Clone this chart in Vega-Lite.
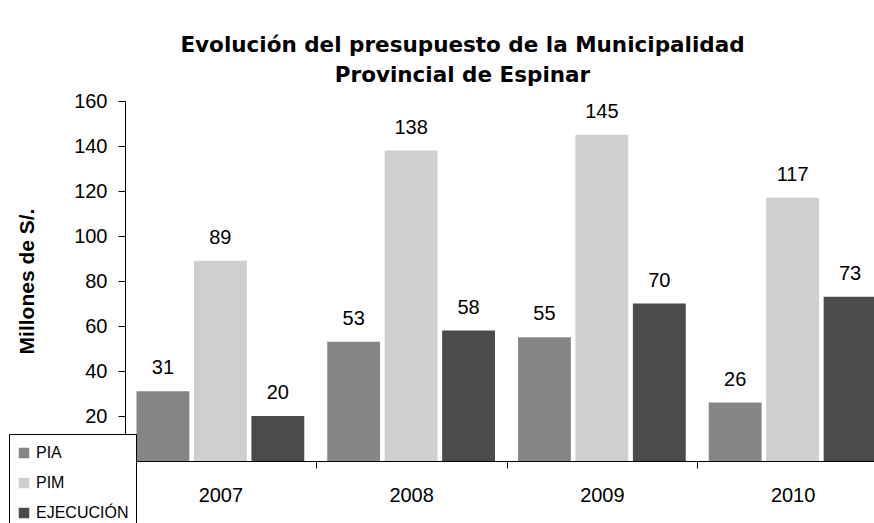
{
  "$schema": "https://vega.github.io/schema/vega-lite/v6.json",
  "autosize": {"type": "none"},
  "width": 749,
  "height": 360,
  "padding": {"left": 125, "top": 101, "right": 0, "bottom": 62},
  "background": "white",
  "config": {
    "font": "Liberation Sans",
    "view": {"stroke": null}
  },
  "title": {
    "text": ["Evolución del presupuesto de la Municipalidad", "Provincial de Espinar"],
    "fontSize": 21.5,
    "fontWeight": "bold",
    "lineHeight": 30,
    "anchor": "middle",
    "dx": -37,
    "offset": 5,
    "color": "black",
    "font": "DejaVu Sans"
  },
  "data": {
    "values": [
      {"year": "2007", "serie": "PIA", "value": 31},
      {"year": "2007", "serie": "PIM", "value": 89},
      {"year": "2007", "serie": "EJECUCIÓN", "value": 20},
      {"year": "2008", "serie": "PIA", "value": 53},
      {"year": "2008", "serie": "PIM", "value": 138},
      {"year": "2008", "serie": "EJECUCIÓN", "value": 58},
      {"year": "2009", "serie": "PIA", "value": 55},
      {"year": "2009", "serie": "PIM", "value": 145},
      {"year": "2009", "serie": "EJECUCIÓN", "value": 70},
      {"year": "2010", "serie": "PIA", "value": 26},
      {"year": "2010", "serie": "PIM", "value": 117},
      {"year": "2010", "serie": "EJECUCIÓN", "value": 73}
    ]
  },
  "encoding": {
    "x": {
      "field": "year",
      "type": "nominal",
      "scale": {"range": [0, 763], "paddingInner": 0, "paddingOuter": 0},
      "axis": {
        "title": null,
        "labelAngle": 0,
        "tickBand": "extent",
        "tickSize": 7,
        "domainColor": "black",
        "tickColor": "black",
        "labelColor": "black",
        "labelFontSize": 20,
        "labelPadding": 17
      }
    },
    "xOffset": {
      "field": "serie",
      "type": "nominal",
      "sort": ["PIA", "PIM", "EJECUCIÓN"],
      "scale": {"paddingInner": 0.08, "paddingOuter": 0.2}
    },
    "y": {
      "field": "value",
      "type": "quantitative",
      "scale": {"domain": [0, 160]},
      "axis": {
        "title": "Millones de S/.",
        "titleFontSize": 21,
        "titleFontWeight": "bold",
        "titleLetterSpacing": 0.7,
        "titleColor": "black",
        "titlePadding": 36,
        "values": [0, 20, 40, 60, 80, 100, 120, 140, 160],
        "grid": false,
        "tickSize": 7,
        "labelPadding": 11,
        "labelFontSize": 20,
        "labelColor": "black",
        "domainColor": "black",
        "tickColor": "black"
      }
    }
  },
  "layer": [
    {
      "mark": {"type": "bar"},
      "encoding": {
        "color": {
          "field": "serie",
          "type": "nominal",
          "sort": ["PIA", "PIM", "EJECUCIÓN"],
          "scale": {"domain": ["PIA", "PIM", "EJECUCIÓN"], "range": ["#858687", "#cfcfd1", "#4b4b4d"]},
          "legend": {
            "title": " ",
            "titleFontSize": 1,
            "titlePadding": 3,
            "orient": "none",
            "legendX": -116,
            "legendY": 333,
            "direction": "vertical",
            "symbolType": "square",
            "symbolSize": 110,
            "symbolStrokeWidth": 0,
            "labelFontSize": 16,
            "labelColor": "black",
            "labelOffset": 4,
            "rowPadding": 14,
            "padding": 7,
            "strokeColor": "black",
            "fillColor": "white"
          }
        }
      }
    },
    {
      "mark": {"type": "text", "dy": -23, "fontSize": 20, "color": "black"},
      "encoding": {"text": {"field": "value", "type": "quantitative"}}
    }
  ]
}
